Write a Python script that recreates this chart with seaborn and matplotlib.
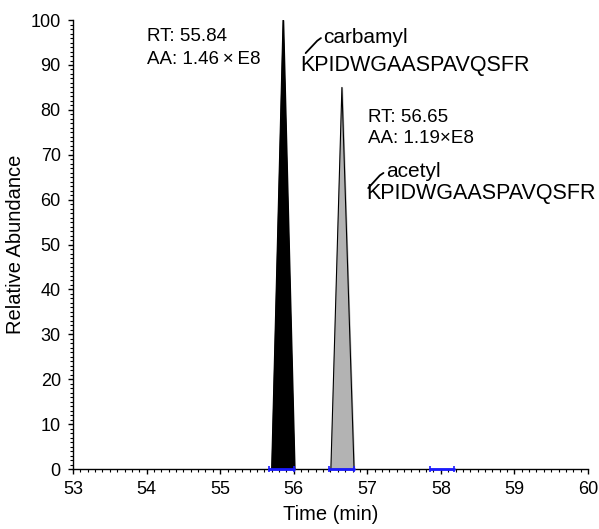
import matplotlib
matplotlib.use("Agg")
import matplotlib.pyplot as plt
import seaborn as sns
import pandas as pd
from matplotlib.ticker import MultipleLocator

# peak data (time in min, relative abundance)
carbamyl_time = [55.70, 55.855, 56.01]
carbamyl_abund = [0, 100, 0]
acetyl_time = [56.505, 56.655, 56.82]
acetyl_abund = [0, 85, 0]

# integration baselines (start, end)
baseline_starts = [55.66, 56.48, 57.855]
baseline_ends = [56.01, 56.82, 58.185]

sns.set_style("ticks")
plt.rcParams["font.family"] = ["Liberation Sans", "DejaVu Sans"]
plt.rcParams["text.color"] = "black"
plt.rcParams["axes.labelcolor"] = "black"
plt.rcParams["xtick.color"] = "black"
plt.rcParams["ytick.color"] = "black"

fig = plt.figure(figsize=(5.99, 5.29), dpi=100)
ax = fig.add_axes([0.1219, 0.1134, 0.8597, 0.8486])

df_c = pd.DataFrame({"time": carbamyl_time, "abund": carbamyl_abund})
df_a = pd.DataFrame({"time": acetyl_time, "abund": acetyl_abund})

ax.fill_between(df_c["time"], df_c["abund"], color="black", zorder=2)
sns.lineplot(data=df_c, x="time", y="abund", color="black", lw=0.8, ax=ax, zorder=3)
ax.fill_between(df_a["time"], df_a["abund"], color="#b3b3b3", zorder=2)
sns.lineplot(data=df_a, x="time", y="abund", color="black", lw=0.8, ax=ax, zorder=3)

for s, e in zip(baseline_starts, baseline_ends):
    ax.plot([s, e], [0, 0], color="#1a1aff", lw=2, marker="|", ms=4, mew=1.2,
            zorder=5, clip_on=False)

ax.set_xlim(53, 60)
ax.set_ylim(0, 100)
ax.xaxis.set_major_locator(MultipleLocator(1))
ax.xaxis.set_minor_locator(MultipleLocator(0.1))
ax.yaxis.set_major_locator(MultipleLocator(10))
ax.yaxis.set_minor_locator(MultipleLocator(1))
ax.tick_params(which="major", direction="out", length=3.8, width=1, labelsize=13, pad=5)
ax.tick_params(which="minor", direction="out", length=2.3, width=0.8)
sns.despine(ax=ax)
for sp in ["left", "bottom"]:
    ax.spines[sp].set_linewidth(1)
    ax.spines[sp].set_color("black")

ax.set_xlabel("Time (min)", fontsize=14.5, labelpad=5)
ax.set_ylabel("Relative Abundance", fontsize=14.5, labelpad=4)

# annotations
ax.text(54.01, 95.3, "RT: 55.84", fontsize=13.5, va="baseline", ha="left")
ax.text(54.01, 90.2, "AA: 1.46\u2009\u00d7\u2009E8", fontsize=13.5, va="baseline", ha="left")
ax.text(56.405, 94.9, "carbamyl", fontsize=15, va="baseline", ha="left")
ax.text(56.095, 88.6, "KPIDWGAASPAVQSFR", fontsize=15.5, va="baseline", ha="left")
ax.plot([56.162, 56.32, 56.37], [92.65, 95.4, 96.0], color="black", lw=1.3)

ax.text(57.01, 77.3, "RT: 56.65", fontsize=13.5, va="baseline", ha="left")
ax.text(57.01, 72.6, "AA: 1.19\u00d7E8", fontsize=13.5, va="baseline", ha="left")
ax.text(57.26, 65.0, "acetyl", fontsize=15, va="baseline", ha="left")
ax.text(56.99, 60.1, "KPIDWGAASPAVQSFR", fontsize=15.5, va="baseline", ha="left")
ax.plot([57.013, 57.17, 57.22], [62.58, 65.4, 65.95], color="black", lw=1.3)

fig.savefig("out.png", dpi=100)
